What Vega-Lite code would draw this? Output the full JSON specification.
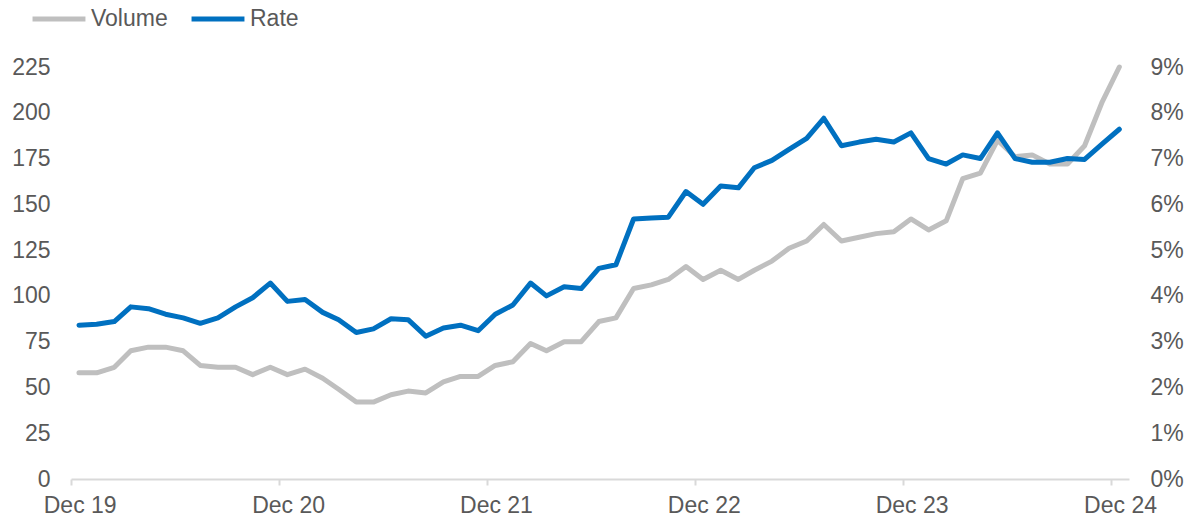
{
  "$schema": "https://vega.github.io/schema/vega-lite/v6.json",
  "width": 1058,
  "height": 412,
  "autosize": {"type": "none"},
  "padding": {"left": 71, "top": 67, "right": 56, "bottom": 39},
  "background": "white",
  "config": {
    "view": {"stroke": null},
    "font": "Liberation Sans",
    "axis": {"labelFont": "Liberation Sans", "labelFontSize": 23, "labelColor": "#595959", "grid": false, "title": null},
    "legend": {"labelFont": "Liberation Sans", "labelFontSize": 23, "labelColor": "#595959"}
  },
  "data": {
    "values": [
      {"date": "2019-12-15", "volume": 58, "rate": 3.36},
      {"date": "2020-01-15", "volume": 58, "rate": 3.38},
      {"date": "2020-02-15", "volume": 61, "rate": 3.44},
      {"date": "2020-03-15", "volume": 70, "rate": 3.76},
      {"date": "2020-04-15", "volume": 72, "rate": 3.72},
      {"date": "2020-05-15", "volume": 72, "rate": 3.60},
      {"date": "2020-06-15", "volume": 70, "rate": 3.52},
      {"date": "2020-07-15", "volume": 62, "rate": 3.40},
      {"date": "2020-08-15", "volume": 61, "rate": 3.52},
      {"date": "2020-09-15", "volume": 61, "rate": 3.76},
      {"date": "2020-10-15", "volume": 57, "rate": 3.96},
      {"date": "2020-11-15", "volume": 61, "rate": 4.28},
      {"date": "2020-12-15", "volume": 57, "rate": 3.88},
      {"date": "2021-01-15", "volume": 60, "rate": 3.92},
      {"date": "2021-02-15", "volume": 55, "rate": 3.64},
      {"date": "2021-03-15", "volume": 49, "rate": 3.48},
      {"date": "2021-04-15", "volume": 42, "rate": 3.20},
      {"date": "2021-05-15", "volume": 42, "rate": 3.28},
      {"date": "2021-06-15", "volume": 46, "rate": 3.50},
      {"date": "2021-07-15", "volume": 48, "rate": 3.48},
      {"date": "2021-08-15", "volume": 47, "rate": 3.12},
      {"date": "2021-09-15", "volume": 53, "rate": 3.30},
      {"date": "2021-10-15", "volume": 56, "rate": 3.36},
      {"date": "2021-11-15", "volume": 56, "rate": 3.24},
      {"date": "2021-12-15", "volume": 62, "rate": 3.60},
      {"date": "2022-01-15", "volume": 64, "rate": 3.80},
      {"date": "2022-02-15", "volume": 74, "rate": 4.28},
      {"date": "2022-03-15", "volume": 70, "rate": 4.00},
      {"date": "2022-04-15", "volume": 75, "rate": 4.20},
      {"date": "2022-05-15", "volume": 75, "rate": 4.16},
      {"date": "2022-06-15", "volume": 86, "rate": 4.60},
      {"date": "2022-07-15", "volume": 88, "rate": 4.68},
      {"date": "2022-08-15", "volume": 104, "rate": 5.68},
      {"date": "2022-09-15", "volume": 106, "rate": 5.70},
      {"date": "2022-10-15", "volume": 109, "rate": 5.72},
      {"date": "2022-11-15", "volume": 116, "rate": 6.28},
      {"date": "2022-12-15", "volume": 109, "rate": 6.00},
      {"date": "2023-01-15", "volume": 114, "rate": 6.40},
      {"date": "2023-02-15", "volume": 109, "rate": 6.36},
      {"date": "2023-03-15", "volume": 114, "rate": 6.80},
      {"date": "2023-04-15", "volume": 119, "rate": 6.96},
      {"date": "2023-05-15", "volume": 126, "rate": 7.20},
      {"date": "2023-06-15", "volume": 130, "rate": 7.44},
      {"date": "2023-07-15", "volume": 139, "rate": 7.88},
      {"date": "2023-08-15", "volume": 130, "rate": 7.28},
      {"date": "2023-09-15", "volume": 132, "rate": 7.36},
      {"date": "2023-10-15", "volume": 134, "rate": 7.42},
      {"date": "2023-11-15", "volume": 135, "rate": 7.36},
      {"date": "2023-12-15", "volume": 142, "rate": 7.56},
      {"date": "2024-01-15", "volume": 136, "rate": 7.00},
      {"date": "2024-02-15", "volume": 141, "rate": 6.88},
      {"date": "2024-03-15", "volume": 164, "rate": 7.08},
      {"date": "2024-04-15", "volume": 167, "rate": 7.00},
      {"date": "2024-05-15", "volume": 185, "rate": 7.56},
      {"date": "2024-06-15", "volume": 176, "rate": 7.00},
      {"date": "2024-07-15", "volume": 177, "rate": 6.92},
      {"date": "2024-08-15", "volume": 172, "rate": 6.92},
      {"date": "2024-09-15", "volume": 172, "rate": 7.00},
      {"date": "2024-10-15", "volume": 182, "rate": 6.98},
      {"date": "2024-11-15", "volume": 206, "rate": 7.32},
      {"date": "2024-12-15", "volume": 225, "rate": 7.64}
    ]
  },
  "encoding": {
    "x": {
      "field": "date",
      "type": "temporal",
      "scale": {
        "type": "utc",
        "domain": [
          {"year": 2019, "month": 12, "date": 1, "utc": true},
          {"year": 2025, "month": 1, "date": 1, "utc": true}
        ]
      },
      "axis": {
        "values": [
          {"year": 2019, "month": 12, "date": 1, "utc": true},
          {"year": 2020, "month": 12, "date": 1, "utc": true},
          {"year": 2021, "month": 12, "date": 1, "utc": true},
          {"year": 2022, "month": 12, "date": 1, "utc": true},
          {"year": 2023, "month": 12, "date": 1, "utc": true},
          {"year": 2024, "month": 12, "date": 1, "utc": true}
        ],
        "labelExpr": "utcFormat(datum.value, '%b %y')",
        "labelOffset": 8.7,
        "labelPadding": 9,
        "tickSize": 6,
        "tickColor": "#D9D9D9",
        "tickWidth": 2,
        "domainColor": "#D9D9D9",
        "domainWidth": 2,
        "labelFlush": false,
        "labelOverlap": false
      }
    }
  },
  "layer": [
    {
      "mark": {"type": "line", "strokeWidth": 5, "strokeJoin": "round", "strokeCap": "round"},
      "encoding": {
        "y": {
          "field": "volume",
          "type": "quantitative",
          "scale": {"domain": [0, 225], "nice": false},
          "axis": {
            "orient": "left",
            "values": [0, 25, 50, 75, 100, 125, 150, 175, 200, 225],
            "domain": false,
            "ticks": false,
            "labelPadding": 21
          }
        },
        "color": {
          "datum": "Volume",
          "type": "nominal",
          "scale": {"domain": ["Volume", "Rate"], "range": ["#BFBFBF", "#0070C0"]},
          "legend": {
            "title": null,
            "orient": "none",
            "direction": "horizontal",
            "legendX": -41,
            "legendY": -77,
            "symbolType": "stroke",
            "symbolStrokeWidth": 5,
            "symbolSize": 2800,
            "labelOffset": 3,
            "columnPadding": 13
          }
        }
      }
    },
    {
      "mark": {"type": "line", "strokeWidth": 5, "strokeJoin": "round", "strokeCap": "round"},
      "encoding": {
        "y": {
          "field": "rate",
          "type": "quantitative",
          "scale": {"domain": [0, 9], "nice": false},
          "axis": {
            "orient": "right",
            "values": [0, 1, 2, 3, 4, 5, 6, 7, 8, 9],
            "labelExpr": "datum.value + '%'",
            "domain": false,
            "ticks": false,
            "labelPadding": 21
          }
        },
        "color": {"datum": "Rate", "type": "nominal"}
      }
    }
  ],
  "resolve": {"scale": {"y": "independent"}}
}
